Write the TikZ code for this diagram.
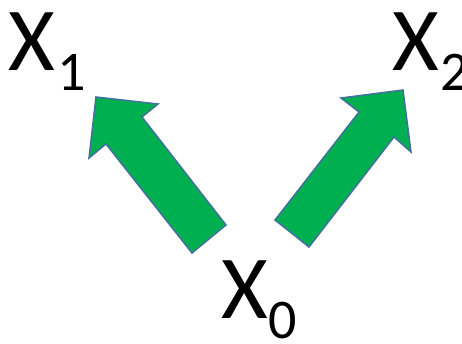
\documentclass[tikz,border=0pt]{standalone}
\usepackage{fontspec}
\setmainfont{Carlito}
\definecolor{arrowgreen}{HTML}{00B050}
\definecolor{arrowline}{HTML}{41719C}
\begin{document}
\begin{tikzpicture}[x=1pt,y=-1pt,
  bigx/.style={inner sep=0pt,anchor=base west,font=\fontsize{90}{90}\selectfont},
  subx/.style={inner sep=0pt,anchor=base west,font=\fontsize{56}{56}\selectfont},
  blockarrow/.style={fill=arrowgreen,draw=arrowline,line width=1.5pt,line join=miter}]
\useasboundingbox (0,0) rectangle (462,343);
% labels
\node[bigx] (x1) at (8,70) {X};
\node[subx] (s1) at (57,90) {1};
\node[bigx] (x2) at (392,70) {X};
\node[subx] (s2) at (440,90) {2};
\node[bigx] (x0) at (221,318) {X};
\node[subx] (s0) at (268,338) {0};
% left block arrow
\draw[blockarrow] (96,97) -- (158,104) -- (142,117) -- (226,225) -- (192,253) -- (106,144) -- (89,158) -- cycle;
% right block arrow
\draw[blockarrow] (403,90) -- (411,152) -- (394,137) -- (309,247) -- (275,220) -- (359,112) -- (341,98) -- cycle;
\end{tikzpicture}
\end{document}
